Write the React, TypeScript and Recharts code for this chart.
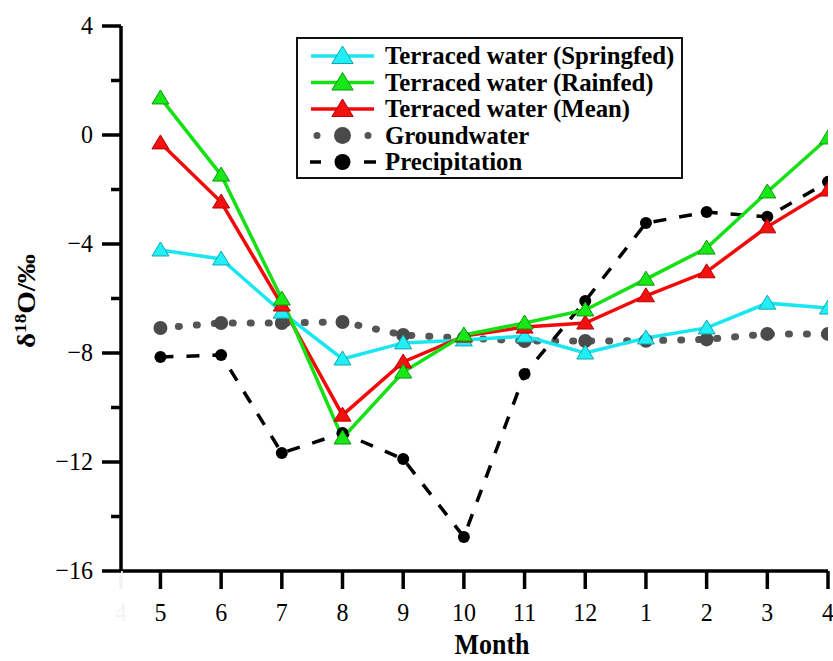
import React from 'react';
import { LineChart, Line, XAxis, YAxis, Legend } from 'recharts';

const months = ['5', '6', '7', '8', '9', '10', '11', '12', '1', '2', '3', '4'];
const springfed = [-4.22, -4.55, -6.5, -8.22, -7.63, -7.52, -7.38, -8.0, -7.45, -7.08, -6.17, -6.35];
const rainfed = [1.36, -1.47, -6.02, -11.12, -8.7, -7.34, -6.9, -6.42, -5.29, -4.15, -2.09, -0.11];
const meanWater = [-0.29, -2.46, -6.24, -10.28, -8.33, -7.38, -7.05, -6.9, -5.9, -5.02, -3.37, -2.02];
const groundwater = [-7.08, -6.9, -6.9, -6.86, -7.34, -7.45, -7.56, -7.56, -7.55, -7.5, -7.3, -7.3];
const precipitation = [-8.15, -8.07, -11.67, -10.94, -11.89, -14.75, -8.77, -6.09, -3.23, -2.83, -3.0, -1.72];

const yTicks = [-16, -14, -12, -10, -8, -6, -4, -2, 0, 2, 4];
const leadingMonthLabel = '4';
const xStart = -0.65;
const xTicks = [xStart, 0, 1, 2, 3, 4, 5, 6, 7, 8, 9, 10, 11];

const legendLabels = [
  'Terraced water (Springfed)',
  'Terraced water (Rainfed)',
  'Terraced water (Mean)',
  'Groundwater',
  'Precipitation',
];

const data = months.map((m, i) => ({
  idx: i,
  month: m,
  springfed: springfed[i],
  rainfed: rainfed[i],
  meanWater: meanWater[i],
  groundwater: groundwater[i],
  precipitation: precipitation[i],
}));

const SERIF = "'Liberation Serif', 'Times New Roman', Times, serif";

const CYAN = { line: '#19E6EE', fill: '#22EEF6', stroke: '#10A8B0' };
const GREEN = { line: '#14E014', fill: '#18E818', stroke: '#0A9A0A' };
const RED = { line: '#F20A0A', fill: '#F21010', stroke: '#B80000' };
const GRAY = '#555555';

const triPoints = (cx: number, cy: number, s: number) =>
  `${cx},${cy - 8 * s} ${cx - 8.5 * s},${cy + 6 * s} ${cx + 8.5 * s},${cy + 6 * s}`;

const makeTriDot = (c: { fill: string; stroke: string }) => (props: any) => {
  const { cx, cy, index } = props;
  if (cx == null || cy == null) return <g key={index} />;
  return <polygon key={index} points={triPoints(cx, cy, 1)} fill={c.fill} stroke={c.stroke} strokeWidth={1} />;
};

const makeCircleDot = (color: string, r: number) => (props: any) => {
  const { cx, cy, index } = props;
  if (cx == null || cy == null) return <g key={index} />;
  return <circle key={index} cx={cx} cy={cy} r={r} fill={color} stroke="none" />;
};

const XTick = (props: any) => {
  const { x, y, payload } = props;
  const v = payload.value;
  const faint = v < 0;
  const label = faint ? leadingMonthLabel : months[Math.round(v)];
  const color = faint ? '#f3f3f3' : '#000';
  return (
    <g>
      <line x1={x} x2={x} y1={y} y2={y + 18} stroke={color} strokeWidth={3.5} />
      <text
        transform={`translate(${x},${y + 50}) scale(1,1.08)`}
        x={0}
        y={0}
        textAnchor="middle"
        fontFamily={SERIF}
        fontSize={24}
        fill={color}
      >
        {label}
      </text>
    </g>
  );
};

const YTick = (props: any) => {
  const { x, y, payload } = props;
  const v = payload.value;
  const major = v % 4 === 0;
  return (
    <g>
      <line x1={x - (major ? 19 : 10)} x2={x} y1={y} y2={y} stroke="#000" strokeWidth={3.5} />
      {major && (
        <text
          transform={`translate(${x - 28},${y + 8}) scale(1,1.08)`}
          x={0}
          y={0}
          textAnchor="end"
          fontFamily={SERIF}
          fontSize={24}
          fill="#000"
        >
          {String(v).replace('-', '\u2212')}
        </text>
      )}
    </g>
  );
};

const YLabel = () => (
  <text
    transform="translate(35,301) rotate(-90) scale(1.12,1)"
    textAnchor="middle"
    fontFamily={SERIF}
    fontWeight="bold"
    fontSize={26}
    fill="#000"
  >
    δ<tspan dy={-9} fontSize={17}>18</tspan>
    <tspan dy={9}>O/‰</tspan>
  </text>
);

const XLabel = () => (
  <text
    transform="translate(492,654) scale(1,1.12)"
    x={0}
    y={0}
    textAnchor="middle"
    fontFamily={SERIF}
    fontWeight="bold"
    fontSize={26}
    fill="#000"
  >
    Month
  </text>
);

const LegendBox = () => {
  const rows = [19, 45.5, 72, 98.5, 125];
  const x1 = 15;
  const x2 = 78;
  const cxm = 46.5;
  return (
    <svg width={388} height={143} style={{ display: 'block' }}>
      <rect x={1} y={1} width={385} height={140} fill="#fff" stroke="#111" strokeWidth={2} />
      <line x1={x1} x2={x2} y1={rows[0]} y2={rows[0]} stroke={CYAN.line} strokeWidth={3.5} />
      <polygon points={triPoints(cxm, rows[0], 1.25)} fill={CYAN.fill} stroke={CYAN.stroke} strokeWidth={1} />
      <line x1={x1} x2={x2} y1={rows[1]} y2={rows[1]} stroke={GREEN.line} strokeWidth={3.5} />
      <polygon points={triPoints(cxm, rows[1], 1.25)} fill={GREEN.fill} stroke={GREEN.stroke} strokeWidth={1} />
      <line x1={x1} x2={x2} y1={rows[2]} y2={rows[2]} stroke={RED.line} strokeWidth={3.5} />
      <polygon points={triPoints(cxm, rows[2], 1.25)} fill={RED.fill} stroke={RED.stroke} strokeWidth={1} />
      <circle cx={21} cy={rows[3]} r={3.5} fill={GRAY} />
      <circle cx={72} cy={rows[3]} r={3.5} fill={GRAY} />
      <circle cx={cxm} cy={rows[3]} r={8.5} fill="#4a4a4a" />
      <line x1={14} x2={25} y1={rows[4]} y2={rows[4]} stroke="#000" strokeWidth={3.5} />
      <line x1={68} x2={80} y1={rows[4]} y2={rows[4]} stroke="#000" strokeWidth={3.5} />
      <circle cx={cxm} cy={rows[4]} r={8} fill="#000" />
      {legendLabels.map((t, i) => (
        <text key={t} x={89} y={rows[i] + 8} fontFamily={SERIF} fontWeight="bold" fontSize={24.8} fill="#000">
          {t}
        </text>
      ))}
    </svg>
  );
};

export default function App() {
  return (
    <div style={{ position: 'absolute', left: 0, top: 0, width: 833, height: 661, background: '#fff' }}>
      <LineChart width={833} height={661} data={data} margin={{ top: 26, right: 5, bottom: 0, left: 0 }}>
        <XAxis
          type="number"
          dataKey="idx"
          domain={[xStart, 11]}
          ticks={xTicks}
          interval={0}
          allowDataOverflow
          height={90}
          tickSize={0}
          tickMargin={0}
          tickLine={false}
          axisLine={{ stroke: '#000', strokeWidth: 3.5 }}
          tick={<XTick />}
          label={<XLabel />}
        />
        <YAxis
          type="number"
          domain={[-16, 4]}
          ticks={yTicks}
          interval={0}
          width={121}
          tickSize={0}
          tickMargin={0}
          tickLine={false}
          axisLine={{ stroke: '#000', strokeWidth: 3.5 }}
          tick={<YTick />}
          label={<YLabel />}
        />
        <Legend
          layout="horizontal"
          verticalAlign="middle"
          align="center"
          content={() => <LegendBox />}
          wrapperStyle={{ position: 'absolute', left: 296, top: 37, width: 388, height: 143 }}
        />
        <Line
          type="linear"
          dataKey="groundwater"
          stroke={GRAY}
          strokeWidth={7}
          strokeDasharray="1 17"
          strokeLinecap="round"
          dot={makeCircleDot('#4a4a4a', 7)}
          activeDot={false}
          isAnimationActive={false}
        />
        <Line
          type="linear"
          dataKey="precipitation"
          stroke="#000"
          strokeWidth={3.5}
          strokeDasharray="13 13"
          dot={makeCircleDot('#000', 6)}
          activeDot={false}
          isAnimationActive={false}
        />
        <Line
          type="linear"
          dataKey="springfed"
          stroke={CYAN.line}
          strokeWidth={3.5}
          dot={makeTriDot(CYAN)}
          activeDot={false}
          isAnimationActive={false}
        />
        <Line
          type="linear"
          dataKey="meanWater"
          stroke={RED.line}
          strokeWidth={3.5}
          dot={makeTriDot(RED)}
          activeDot={false}
          isAnimationActive={false}
        />
        <Line
          type="linear"
          dataKey="rainfed"
          stroke={GREEN.line}
          strokeWidth={3.5}
          dot={makeTriDot(GREEN)}
          activeDot={false}
          isAnimationActive={false}
        />
      </LineChart>
    </div>
  );
}
